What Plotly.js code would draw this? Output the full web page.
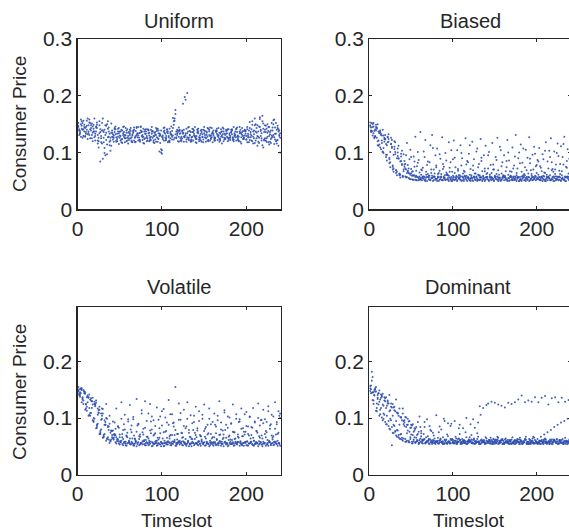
<!DOCTYPE html>
<html>
<head>
<meta charset="utf-8">
<script src="https://cdn.plot.ly/plotly-3.0.1.min.js"></script>
<style>
html,body{margin:0;padding:0;overflow:hidden;background:#fff;}
#chart{width:572px;height:531px;}
</style>
</head>
<body>
<div id="chart"></div>
<script>
// Consumer price values in thousandths (0.001), one array per consumer series,
// sampled every 2 timeslots (series alternate odd/even slots).
const panelTitles = ["Uniform", "Biased", "Volatile", "Dominant"];
const xTickVals = [0, 100, 200];
const xTickText = ["0", "100", "200"];
const yTickValsTop = [0, 0.1, 0.2, 0.3];
const yTickTextTop = ["0", "0.1", "0.2", "0.3"];
const yTickValsBottom = [0, 0.1, 0.2];
const yTickTextBottom = ["0", "0.1", "0.2"];

const uniform1 = [152,138,147,129,143,156,134,141,125,149, 121,143,109,136,152,118,131,97,144,126,
128,119,141,133,115,137,124,146,130,121, 136,125,118,140,129,134,122,145,127,116,
133,141,120,128,137,117,131,125,102,139, 124,135,129,118,142,131,161,126,137,120,
138,122,133,127,119,144,130,123,136,128, 117,134,126,140,123,131,137,120,129,143,
130,121,138,127,133,116,142,125,134,122, 126,139,120,131,144,128,119,136,124,133,
141,118,132,149,125,137,112,146,129,155, 123,147,135,114,139,128,158,120,143,131];
const uniform2 = [139,150,126,145,133,160,131,148,120,137, 146,116,134,125,89,140,122,155,113,135,
123,136,127,142,130,118,134,125,139,116, 131,119,137,126,143,121,135,129,117,140,
120,134,127,145,118,132,138,124,130,98, 137,126,141,120,133,128,123,175,131,144,
125,139,119,134,127,145,121,136,130,118, 138,127,121,132,145,119,128,140,125,134,
124,136,129,119,141,132,126,138,120,131, 135,122,131,142,125,137,116,129,140,123,
130,154,121,137,117,143,128,162,134,109, 148,125,138,119,152,131,144,116,137,126];
const uniform3 = [145,133,155,141,128,147,137,152,131,142, 129,153,120,84,139,126,148,114,137,103,
139,126,132,120,143,129,117,136,125,141, 122,138,130,144,119,133,126,139,131,124,
141,125,135,122,138,129,143,119,133,100, 127,139,122,134,118,146,130,156,125,136,
133,120,186,129,142,124,138,127,121,145, 129,142,124,136,118,138,131,122,144,127,
139,125,133,143,121,130,137,124,128,141, 122,132,145,127,136,120,140,131,126,137,
118,139,127,155,132,121,148,126,140,113, 136,121,150,129,117,144,127,152,122,139];
const uniform4 = [131,158,140,149,136,124,153,143,135,160, 137,121,148,129,160,108,135,142,119,151,
132,141,119,128,137,123,145,131,120,135, 140,127,135,118,131,145,122,137,128,133,
126,139,121,137,129,123,141,134,117,128, 143,121,136,129,125,138,149,132,140,119,
121,137,128,193,134,126,119,142,133,124, 135,123,139,128,134,126,121,137,130,118,
127,139,122,135,128,144,123,133,141,126, 140,127,134,121,130,145,133,124,138,129,
133,122,141,128,160,135,119,145,125,151, 125,142,118,136,130,157,123,140,112,134];
const uniform5 = [147,135,142,156,129,140,148,125,151,137, 133,149,126,141,116,136,95,150,128,121,
135,130,146,124,134,121,139,128,143,126, 125,143,132,121,138,127,134,146,122,137,
137,121,130,140,126,135,119,142,129,106, 130,144,125,137,121,132,143,160,127,139,
140,128,135,198,123,137,131,120,141,129, 124,137,130,119,140,127,135,142,121,133,
133,126,142,130,124,137,120,131,139,125, 129,141,123,137,128,121,135,143,126,139,
145,127,136,120,139,150,129,117,138,165, 121,136,128,145,124,139,115,133,147,129];
const uniform6 = [141,128,152,137,145,132,158,139,146,127, 144,131,155,118,139,99,147,127,133,112,
127,143,121,137,126,140,131,118,135,129, 134,121,139,127,145,130,119,136,142,125,
129,140,124,133,121,136,127,139,132,104, 121,133,140,127,136,123,155,168,134,128,
134,125,140,131,205,122,136,128,139,126, 141,120,133,127,139,125,143,131,124,136,
121,138,131,124,136,127,133,140,126,134, 137,125,129,141,122,134,127,138,130,123,
127,143,130,116,148,125,137,159,121,142, 140,119,145,132,126,150,133,121,141,100];

const biased1 = [148,138,152,129,144,112,139,121,108,131, 96,124,83,110,72,101,66,90,61,78,
70,58,64,55,61,53,59,52,57,51, 55,51,58,53,50,56,52,59,51,54,
50,57,53,51,55,52,60,50,54,53, 52,56,50,54,58,51,53,57,50,55,
54,51,56,52,50,59,53,51,55,52, 57,50,53,55,51,54,58,52,50,56,
51,55,52,50,57,53,51,56,54,50, 53,58,51,55,52,50,54,57,53,51,
56,52,54,50,58,53,51,55,52,57, 50,54,57,52,51,56,53,50,58,52];
const biased2 = [139,150,127,145,120,136,131,101,126,115, 127,91,115,77,106,69,94,62,85,58,
75,56,68,54,63,52,60,51,57,53, 53,58,51,56,62,52,55,50,57,53,
56,52,58,51,54,61,52,56,50,55, 51,54,57,53,50,56,59,52,55,51,
55,50,53,58,52,51,56,54,50,57, 52,56,51,54,59,53,50,55,52,58,
57,53,55,51,52,58,54,50,56,53, 50,56,52,54,57,51,55,52,59,54,
54,51,57,53,50,55,58,51,54,50, 58,53,51,56,54,52,50,57,53,55];
const biased3 = [153,137,146,128,142,121,136,117,130,124, 113,132,101,122,96,118,90,112,84,103,
97,80,117,72,105,66,93,128,76,87, 136,69,102,122,78,59,113,131,70,95,
107,64,89,127,75,99,62,118,83,66, 121,74,104,60,113,90,68,125,85,98,
71,119,88,63,107,80,124,67,95,112, 64,101,78,117,70,92,126,61,104,83,
95,67,122,86,59,109,77,131,72,100, 114,82,62,105,91,127,69,96,110,76,
87,108,73,97,65,118,84,103,125,71, 102,79,116,68,111,92,128,75,106,89];
const biased4 = [144,130,138,149,113,134,106,140,119,96, 118,88,126,75,110,69,100,63,93,59,
85,70,78,63,92,67,75,59,82,65, 61,73,57,66,84,59,70,56,63,77,
58,68,62,80,56,65,60,73,57,88, 64,57,71,60,77,56,66,59,83,61,
57,69,63,56,74,60,91,58,67,62, 72,58,64,79,57,62,69,56,76,60,
59,85,61,67,56,72,58,64,90,57, 66,60,74,57,63,81,59,70,56,78,
61,76,58,88,64,57,72,60,83,66, 70,58,94,62,67,79,57,85,63,74];
const biased5 = [146,152,134,141,126,137,109,130,99,123, 86,119,74,108,66,97,60,89,56,80,
67,72,57,64,53,59,52,57,51,55, 52,56,54,50,57,53,51,55,58,52,
54,50,56,52,57,51,53,59,52,50, 57,53,51,55,52,58,50,54,56,53,
50,55,58,51,54,52,57,50,53,56, 54,51,56,53,50,57,52,55,51,54,
56,52,50,55,58,51,54,52,57,50, 51,54,57,50,53,56,52,51,55,58,
53,57,51,55,52,50,56,54,51,53, 55,51,53,58,50,54,52,56,55,51];
const biased6 = [136,145,125,139,150,114,133,102,124,92, 128,81,115,70,120,64,107,60,98,57,
79,95,66,88,71,60,84,68,101,58, 70,55,92,61,57,83,64,108,58,74,
62,97,57,71,60,86,55,66,104,59, 91,59,68,56,99,63,58,79,57,113,
60,77,57,102,61,56,85,59,72,57, 95,61,57,70,58,87,56,110,63,58,
57,74,100,58,66,56,93,60,57,81, 58,107,60,69,57,89,62,57,98,64,
84,57,67,59,103,61,57,92,69,58, 62,99,57,80,60,115,58,73,57,96];

const volatile1 = [155,146,150,131,143,120,137,109,130,100, 123,88,110,77,99,70,88,64,79,60,
66,71,57,63,55,59,54,57,52,55, 57,53,55,51,58,54,52,56,53,59,
52,56,53,58,51,55,57,52,54,50, 55,51,57,53,56,52,54,58,51,56,
53,58,52,55,51,57,53,50,56,54, 56,52,55,58,53,51,57,54,52,55,
51,57,53,52,56,54,50,58,55,52, 58,54,51,56,53,57,55,52,51,56,
52,55,58,53,51,54,56,53,57,50, 55,51,54,57,52,56,53,58,51,54];
const volatile2 = [141,153,133,147,125,140,118,135,124,129, 131,106,120,97,116,88,125,84,104,78,
94,72,117,85,66,128,79,106,69,98, 123,75,102,64,134,89,71,114,81,130,
67,108,125,80,96,73,119,62,103,87, 116,76,92,132,70,107,85,155,72,126,
97,65,115,82,128,74,105,63,93,120, 78,112,68,99,124,84,71,117,89,66,
108,73,96,130,80,63,114,88,103,69, 91,124,75,107,67,98,117,82,71,111,
85,102,70,118,92,77,126,65,97,115, 72,93,121,81,106,68,128,89,112,100];
const volatile3 = [149,138,153,125,146,113,136,104,130,95, 121,86,114,74,104,68,93,63,85,59,
77,62,70,59,83,57,66,89,58,74, 60,80,56,69,58,87,63,56,75,61,
56,67,60,94,57,71,55,65,82,58, 64,56,77,59,68,57,91,61,56,72,
57,74,59,55,85,60,67,56,79,63, 66,57,70,60,56,81,58,73,57,64,
57,88,61,56,71,58,65,79,56,67, 62,56,75,64,57,93,59,68,56,76,
58,69,56,83,60,57,74,59,96,64, 56,77,61,58,89,65,57,71,60,104];
const volatile4 = [143,151,135,144,117,138,106,131,96,125, 82,117,72,108,65,96,60,86,56,77,
64,69,55,62,53,60,52,58,51,56, 54,58,52,55,50,57,53,56,59,52,
57,52,55,50,54,58,51,56,53,55, 50,56,53,58,52,55,57,51,54,59,
56,52,57,53,55,50,54,58,52,56, 53,59,51,55,57,52,56,50,55,53,
57,52,55,59,51,54,57,53,50,56, 54,57,52,55,58,51,53,56,57,52,
51,55,58,52,54,57,50,55,53,58, 56,53,51,57,55,52,58,54,56,51];
const volatile5 = [147,141,128,150,115,137,104,133,118,93, 125,83,109,72,117,66,88,99,62,74,
70,65,81,61,59,57,72,56,55,66, 58,55,64,54,60,56,68,55,59,54,
61,55,57,73,56,54,60,55,65,57, 55,60,54,57,64,55,59,70,54,57,
60,55,66,57,54,59,55,63,56,74, 55,59,54,62,56,67,55,54,60,57,
56,54,63,55,59,55,71,56,54,61, 54,61,55,58,54,65,57,55,76,58,
59,55,64,54,60,56,55,68,57,54, 55,66,56,60,54,62,58,55,72,56];
const volatile6 = [151,144,137,147,124,128,142,109,136,99, 127,90,115,80,108,72,100,66,90,62,
78,92,66,85,71,99,63,80,68,94, 64,87,98,62,76,90,67,108,71,83,
95,64,78,103,69,86,60,97,73,112, 75,101,65,88,107,70,92,79,62,97,
109,73,86,63,99,79,66,91,104,70, 82,95,68,106,77,64,88,99,72,93,
66,85,104,70,92,78,110,65,83,101, 90,76,63,99,71,94,81,68,107,86,
72,103,84,65,94,77,100,87,69,91, 98,75,112,87,69,103,81,93,74,108];

const dominant1 = [157,182,146,151,126,144,115,140,108,135, 122,95,114,84,119,77,110,70,102,65,
95,63,88,60,83,58,76,57,70,56, 64,58,61,56,59,55,62,57,60,54,
58,55,61,57,54,60,56,59,55,62, 56,60,54,58,61,55,57,59,54,60,
59,55,62,56,58,54,60,57,61,55, 57,61,55,59,54,58,62,56,60,54,
55,59,57,54,61,56,58,55,59,62, 60,54,58,62,55,57,54,60,56,58,
54,58,60,55,59,62,56,54,58,57, 61,56,54,59,57,55,60,58,54,59];
const dominant2 = [151,173,140,147,136,129,142,124,137,118, 131,112,126,104,120,95,109,88,101,117,
92,84,99,76,88,70,82,65,93,61, 73,60,84,57,68,62,77,56,64,59,
60,85,57,66,55,62,91,56,61,58, 95,56,63,88,57,82,60,100,58,66,
70,98,83,57,92,121,56,118,57,123, 126,59,129,57,127,61,124,56,122,60,
119,57,127,60,125,55,128,59,133,57, 140,58,128,55,131,61,129,57,137,56,
128,60,136,57,139,55,124,59,135,62, 137,56,128,61,136,57,129,59,132,55];
const dominant3 = [148,166,131,153,118,144,107,138,99,130, 89,126,80,119,73,112,67,104,63,96,
89,102,73,94,66,87,62,81,59,76, 84,61,72,56,98,63,79,58,69,57,
58,75,62,56,99,60,71,57,86,63, 56,67,59,82,57,63,56,75,58,61,
89,57,64,55,73,59,106,60,57,66, 59,56,65,58,62,55,67,60,57,63,
57,64,56,61,58,66,55,60,62,57, 61,56,59,67,55,63,58,56,65,59,
63,56,67,58,71,57,75,59,79,56, 84,58,88,61,92,56,95,60,99,62];
const dominant4 = [144,132,150,113,141,104,136,96,131,89, 126,81,120,74,114,69,108,64,101,60,
96,58,88,57,83,56,78,58,72,56, 68,55,63,58,60,54,57,61,56,59,
55,60,57,54,62,56,58,55,61,57, 60,54,58,61,55,59,56,54,60,57,
56,61,54,59,57,55,62,58,54,60, 58,55,61,56,60,57,54,59,62,55,
62,57,55,60,54,58,61,56,57,54, 55,59,62,54,58,56,60,55,61,57,
57,54,59,61,56,55,58,62,54,60, 59,62,55,57,61,54,56,60,58,55];
const dominant5 = [153,145,125,147,112,124,133,101,122,93, 104,86,99,52,88,76,79,66,71,62,
64,58,60,57,63,55,59,56,61,54, 58,56,62,55,59,61,57,54,60,58,
57,55,64,58,56,60,54,58,63,56, 55,59,57,64,54,58,61,56,55,62,
60,56,55,59,63,57,54,58,60,55, 56,61,58,54,57,62,59,55,57,61,
54,57,61,58,55,56,60,57,63,54, 59,55,57,61,58,54,56,64,55,59,
56,60,54,57,62,59,55,57,60,54, 61,57,59,55,56,63,58,54,57,60];
const dominant6 = [158,146,141,155,134,149,118,143,106,137, 129,141,96,125,86,133,78,117,72,108,
86,101,78,95,71,89,66,84,60,103, 77,62,93,66,58,86,60,74,56,105,
65,57,80,59,95,56,68,58,90,61, 56,64,58,72,55,60,57,66,56,59,
62,56,59,57,67,55,61,58,56,64, 57,61,55,63,58,56,65,57,61,55,
56,59,58,55,62,57,54,60,58,65, 59,56,63,57,54,61,58,67,55,58,
55,58,61,54,64,57,59,55,62,58, 58,63,55,60,57,54,65,58,56,61];

const panelSeries = [
  [uniform1, uniform2, uniform3, uniform4, uniform5, uniform6],
  [biased1, biased2, biased3, biased4, biased5, biased6],
  [volatile1, volatile2, volatile3, volatile4, volatile5, volatile6],
  [dominant1, dominant2, dominant3, dominant4, dominant5, dominant6]
];

const W = 572, H = 531;
const px = v => v / W;
const py = v => 1 - v / H;
const ink = '#262626';
const dotColor = '#3050b0';
const fontFam = 'Liberation Sans, Arial, Helvetica, sans-serif';

const axisRefs = [['x', 'y'], ['x2', 'y2'], ['x3', 'y3'], ['x4', 'y4']];
const traces = [];
panelSeries.forEach((series, p) => {
  series.forEach((arr, k) => {
    traces.push({
      type: 'scatter', mode: 'markers',
      x0: 1 + (k % 2), dx: 2,
      y: arr.map(v => v / 1000),
      xaxis: axisRefs[p][0], yaxis: axisRefs[p][1],
      marker: {size: 2, color: dotColor, opacity: 0.9, line: {width: 0}},
      hoverinfo: 'skip', showlegend: false
    });
  });
});

const colL = [77.5, 281], colR = [369.3, 571];
const rowT = [39, 209.3], rowB = [306.7, 474.5];

function xAxis(col, anchor) {
  return {
    domain: [px(col[0]), px(col[1])], anchor: anchor, range: [0, 241],
    tickvals: xTickVals, ticktext: xTickText,
    showline: true, mirror: 'ticks', linecolor: ink, linewidth: 1.2,
    ticks: 'inside', ticklen: 3, tickcolor: ink, tickwidth: 1,
    showgrid: false, zeroline: false,
    tickfont: {family: fontFam, size: 21, color: ink}
  };
}
function yAxis(row, anchor, top) {
  return {
    domain: [py(row[1]), py(row[0])], anchor: anchor,
    range: top ? [0, 0.3] : [0, 0.2975],
    tickvals: top ? yTickValsTop : yTickValsBottom,
    ticktext: top ? yTickTextTop : yTickTextBottom,
    showline: true, mirror: 'ticks', linecolor: ink, linewidth: 1.2,
    ticks: 'inside', ticklen: 3, tickcolor: ink, tickwidth: 1,
    showgrid: false, zeroline: false,
    tickfont: {family: fontFam, size: 21, color: ink}
  };
}

const ann = (text, x, y, size, rot) => ({
  text: text, xref: 'paper', yref: 'paper', x: px(x), y: py(y),
  xanchor: 'center', yanchor: 'middle', showarrow: false, textangle: rot || 0,
  font: {family: fontFam, size: size, color: ink}
});

const layout = {
  width: W, height: H,
  margin: {l: 0, r: 0, t: 0, b: 0},
  paper_bgcolor: '#fff', plot_bgcolor: '#fff',
  showlegend: false,
  xaxis: xAxis(colL, 'y'), yaxis: yAxis(rowT, 'x', true),
  xaxis2: xAxis(colR, 'y2'), yaxis2: yAxis(rowT, 'x2', true),
  xaxis3: xAxis(colL, 'y3'), yaxis3: yAxis(rowB, 'x3', false),
  xaxis4: xAxis(colR, 'y4'), yaxis4: yAxis(rowB, 'x4', false),
  annotations: [
    ann(panelTitles[0], 179, 21, 20),
    ann(panelTitles[1], 470, 21, 20),
    ann(panelTitles[2], 179, 287, 20),
    ann(panelTitles[3], 468, 287, 20),
    ann('Consumer Price', 19, 124, 19, -90),
    ann('Consumer Price', 19, 392, 19, -90),
    ann('Timeslot', 177, 520, 19),
    ann('Timeslot', 469, 520, 19)
  ]
};

Plotly.newPlot('chart', traces, layout, {staticPlot: true, displayModeBar: false});
</script>
</body>
</html>
